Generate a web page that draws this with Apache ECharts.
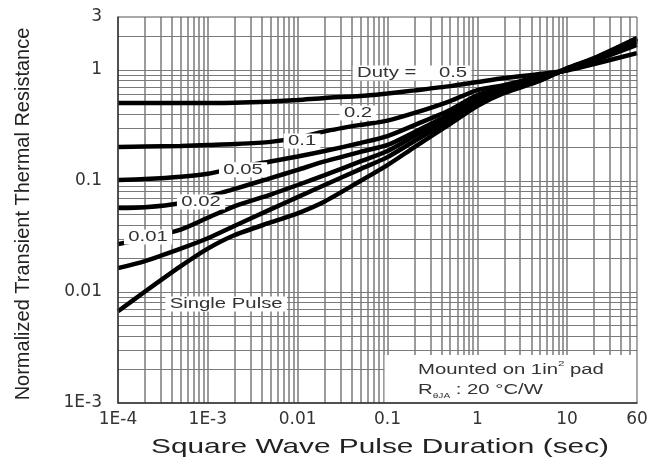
<!DOCTYPE html>
<html>
<head>
<meta charset="utf-8">
<script src="https://cdn.jsdelivr.net/npm/echarts@6/dist/echarts.min.js"></script>
<style>
html,body{margin:0;padding:0;background:#fff;}
#chart{width:652px;height:467px;}
</style>
</head>
<body>
<div id="chart"></div>
<script>
// ---- data ----
const durations   = [1e-4, 2e-4, 5e-4, 1e-3, 2e-3, 5e-3, 0.01, 0.02, 0.05, 0.1, 0.2, 0.5, 1, 2, 5, 10, 20, 60];
const duty05      = [0.504, 0.504, 0.504, 0.504, 0.506, 0.52, 0.536, 0.56, 0.582, 0.615, 0.655, 0.715, 0.778, 0.846, 0.92, 0.99, 1.13, 1.42];
const duty02      = [0.202, 0.204, 0.207, 0.211, 0.215, 0.225, 0.245, 0.28, 0.32, 0.35, 0.41, 0.525, 0.659, 0.731, 0.88, 1.0, 1.21, 1.68];
const duty01      = [0.102, 0.104, 0.109, 0.116, 0.131, 0.150, 0.166, 0.186, 0.22, 0.254, 0.319, 0.436, 0.594, 0.687, 0.855, 1.01, 1.23, 1.79];
const duty005     = [0.057, 0.058, 0.063, 0.072, 0.085, 0.106, 0.126, 0.150, 0.183, 0.211, 0.276, 0.401, 0.547, 0.659, 0.835, 1.02, 1.245, 1.86];
const duty002     = [0.027, 0.0305, 0.0365, 0.0466, 0.0594, 0.0755, 0.092, 0.113, 0.150, 0.186, 0.254, 0.377, 0.515, 0.646, 0.82, 1.03, 1.26, 1.90];
const duty001     = [0.0164, 0.019, 0.0246, 0.0305, 0.0395, 0.0555, 0.0715, 0.092, 0.128, 0.164, 0.229, 0.354, 0.494, 0.633, 0.81, 1.03, 1.27, 1.92];
const singlePulse = [0.0067, 0.0101, 0.0171, 0.0246, 0.0326, 0.0423, 0.0511, 0.0654, 0.100, 0.139, 0.202, 0.327, 0.474, 0.62, 0.80, 1.04, 1.28, 1.94];

const curveNames  = ['Duty 0.5', 'Duty 0.2', 'Duty 0.1', 'Duty 0.05', 'Duty 0.02', 'Duty 0.01', 'Single Pulse'];
const curveValues = [duty05, duty02, duty01, duty005, duty002, duty001, singlePulse];

// curve annotation texts and their anchor (duration, resistance)
const labelTexts   = ['Duty =    0.5', '0.2', '0.1', '0.05', '0.02', '0.01', 'Single Pulse'];
const labelAnchorX = [0.188, 0.047, 0.0112, 0.00247, 8.4e-4, 2.16e-4, 1.6e-3];
const labelAnchorY = [0.94, 0.41, 0.229, 0.126, 0.0646, 0.0313, 0.0078];

// axis ranges
const xMin = 1e-4, xMax = 60;
const yMin = 1e-3, yMax = 3;

// note box corner (duration, resistance)
const noteBoxX = 0.093, noteBoxY = 0.0027;

// log grid lines (1..9 per decade)
const xGridValues = [];
for (let k = -4; k <= 1; k++) for (let m = 1; m <= 9; m++) {
  const v = Number((m * Math.pow(10, k)).toPrecision(3));
  if (v > xMin && v < xMax) xGridValues.push(v);
}
const yGridValues = [];
for (let k = -3; k <= 0; k++) for (let m = 1; m <= 9; m++) {
  const v = Number((m * Math.pow(10, k)).toPrecision(3));
  if (v > yMin && v < yMax) yGridValues.push(v);
}

function fmtTick(v) {
  const r = Number(Number(v).toPrecision(6));
  return r < 0.005 ? '1E' + Math.round(Math.log10(r)) : String(r);
}

const chart = echarts.init(document.getElementById('chart'));

const curveSeries = curveValues.map((vals, i) => ({
  type: 'line',
  name: curveNames[i],
  data: durations.map((t, j) => [t, vals[j]]),
  symbol: 'none',
  showSymbol: false,
  smooth: 0.25,
  silent: true,
  z: 3,
  lineStyle: { color: '#000', width: 4.5 }
}));

const titleGraphics = [
  {
    type: 'text', id: 'xtitle', x: 380, y: 447, scaleX: 1.42, z: 20, silent: true,
    style: {
      text: 'Square Wave Pulse Duration (sec)', align: 'center', verticalAlign: 'middle',
      font: '21px "Liberation Sans", Arial, sans-serif', fill: '#222'
    }
  },
  {
    type: 'text', id: 'ytitle', x: 23, y: 214, rotation: Math.PI / 2, z: 20, silent: true,
    style: {
      text: 'Normalized Transient Thermal Resistance', align: 'center', verticalAlign: 'middle',
      font: '20px "Liberation Sans", Arial, sans-serif', fill: '#222'
    }
  },
  {
    type: 'text', id: 'note', x: 418, y: 360, scaleX: 1.45, z: 20, silent: true,
    style: {
      text: '{t|Mounted on 1in}{sup|2}{t| pad}\n{t|R}{sub|θJA}{t| : 20 °C/W}',
      align: 'left', verticalAlign: 'top',
      rich: {
        t: { fontSize: 14, fontFamily: '"Liberation Sans", Arial', fill: '#333', lineHeight: 20 },
        sup: { fontSize: 8, fontFamily: '"Liberation Sans", Arial', fill: '#333', lineHeight: 20, verticalAlign: 'top' },
        sub: { fontSize: 7, fontFamily: '"Liberation Sans", Arial', fill: '#333', lineHeight: 20, verticalAlign: 'bottom' }
      }
    }
  }
];

const vGridStyle = { color: '#7a7a7a', width: 1.5, type: 'solid' };
const hGridStyle = { color: '#7a7a7a', width: 1.2, type: 'solid' };

const option = {
  animation: false,
  backgroundColor: '#fff',
  grid: {
    left: 118, right: 15, top: 17, bottom: 64,
    show: true, borderColor: '#555', borderWidth: 1,
    backgroundColor: 'transparent', z: 10
  },
  xAxis: {
    type: 'log', logBase: 10, min: xMin, max: xMax, z: 10,
    axisLine: { show: true, lineStyle: { color: '#333', width: 1.5 } },
    axisTick: { show: false },
    splitLine: { show: false },
    axisLabel: { formatter: fmtTick, fontFamily: 'DejaVu Sans', fontSize: 17, color: '#333', margin: 8 }
  },
  yAxis: {
    type: 'log', logBase: 10, min: yMin, max: yMax, z: 10,
    axisLine: { show: true, lineStyle: { color: '#333', width: 1.5 } },
    axisTick: { show: false },
    splitLine: { show: false },
    axisLabel: { formatter: fmtTick, fontFamily: 'DejaVu Sans', fontSize: 17, color: '#333', margin: 16 }
  },
  series: [
    {
      type: 'line',
      name: 'grid',
      data: [],
      silent: true,
      markLine: {
        silent: true,
        animation: false,
        precision: 12,
        symbol: ['none', 'none'],
        label: { show: false },
        emphasis: { disabled: true },
        lineStyle: { color: '#7a7a7a', width: 1.2, type: 'solid' },
        z: 1,
        data: xGridValues.map(v => ({ xAxis: v, lineStyle: vGridStyle }))
          .concat(yGridValues.map(v => ({ yAxis: v, lineStyle: hGridStyle })))
      },
      markArea: {
        silent: true,
        animation: false,
        z: 2,
        label: { show: false },
        itemStyle: { color: '#fff' },
        emphasis: { disabled: true },
        data: [[{ xAxis: noteBoxX, yAxis: yMin }, { xAxis: xMax, yAxis: noteBoxY }]]
      }
    },
    ...curveSeries
  ],
  graphic: titleGraphics
};

chart.setOption(option);

// curve annotations placed through the chart's own axis scales
const labelGraphics = labelTexts.map((s, i) => {
  const p = chart.convertToPixel({ gridIndex: 0 }, [labelAnchorX[i], labelAnchorY[i]]);
  return {
    type: 'text', id: 'curveLabel' + i, x: p[0], y: p[1], scaleX: 1.45, z: 30, silent: true,
    style: {
      text: s, align: 'center', verticalAlign: 'middle',
      font: '14px "Liberation Sans", Arial, sans-serif', fill: '#333',
      backgroundColor: '#fff', padding: [1, 3, 0, 3]
    }
  };
});
chart.setOption({ graphic: titleGraphics.concat(labelGraphics) });
</script>
</body>
</html>
